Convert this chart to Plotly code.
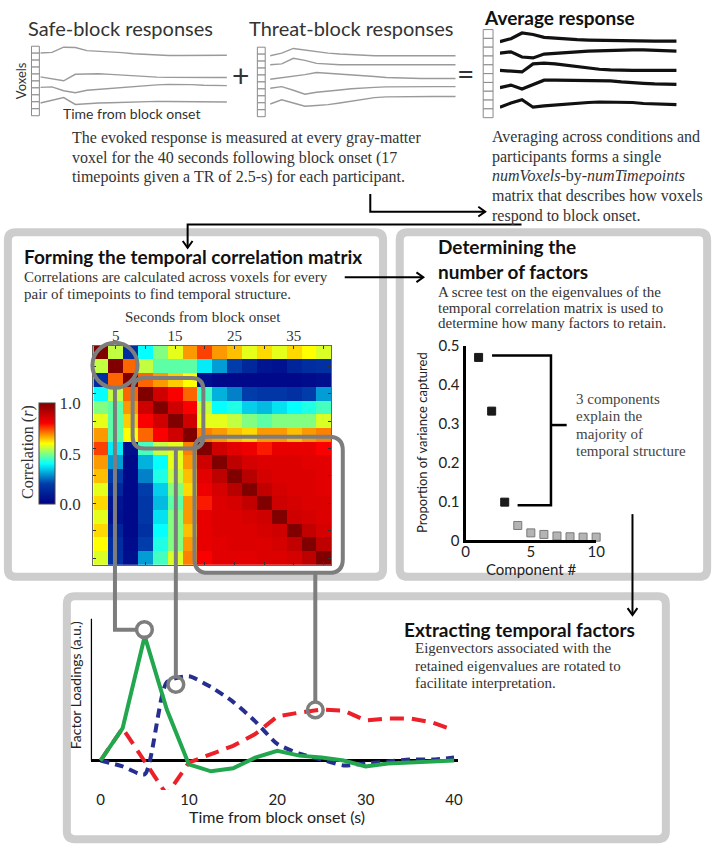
import plotly.graph_objects as go

W, H = 722, 853
SANS = "Lato, 'Open Sans', sans-serif"
SERIF = "'Liberation Serif', 'DejaVu Serif', serif"

# ---------------- data ----------------
timepoints = list(range(17))  # TR index (0..16)

safe_voxels = [
    [66, 66.7, 72, 71.7, 68.5, 68, 67.3, 66.5, 65.3, 64.5, 64, 63.5, 63.5, 63.5, 63.5, 63.5, 63.7],
    [41.7, 40, 37.7, 44.3, 44.8, 44.9, 44.2, 43.5, 42.2, 41.7, 41.4, 41.2, 41, 41, 41, 41, 41],
    [31, 31.5, 27.5, 25.5, 28, 29, 30, 31, 32.2, 33, 33.5, 34, 34.2, 33.8, 33.2, 32.8, 32.7],
    [15, 18, 20.5, 13.5, 14.5, 15, 15.3, 15.7, 16.3, 16.7, 16.7, 16.5, 16.3, 16.2, 16.1, 16, 16],
]
threat_voxels = [
    [63.3, 66, 70.7, 69, 67.5, 66, 65, 64.2, 63.7, 63.3, 63.3, 63.3, 63.3, 63.3, 63.3, 63.3, 63.3],
    [54, 55, 60.7, 58.5, 55.5, 54.5, 54, 54, 54, 54, 54, 54, 54, 54, 54, 54, 54],
    [39.3, 40.7, 42, 44, 46.2, 45.5, 44.7, 43.8, 43, 42, 41, 40.5, 40, 40, 40, 40, 40],
    [30, 31.7, 28, 24, 26, 27.5, 28.3, 29.5, 30.5, 31, 31.5, 31.7, 31.7, 31.7, 31.7, 31.7, 31.7],
    [14, 18.3, 15, 11.7, 12.5, 13.3, 15, 17, 19, 20.5, 21.2, 21.5, 21.7, 21.7, 21.7, 21.7, 21.7],
]
average_voxels = [
    [77.7, 80.7, 86.5, 85, 82, 81, 80.2, 79.7, 79.3, 79, 78.8, 78.5, 78.3, 78.3, 78.3, 78.3, 78.3],
    [66, 67.3, 62, 61, 65, 66, 66.7, 67.3, 68, 68.5, 69, 69.3, 69.3, 69.2, 68.8, 68.4, 68],
    [48.3, 47.7, 46.7, 55, 55.7, 55, 53.5, 52, 50.5, 49.5, 48.8, 48.3, 48.3, 48.3, 48.3, 48.3, 48.3],
    [30.7, 33.3, 29.3, 34, 38.3, 38.3, 38.3, 38.3, 38.3, 38, 37.5, 36.5, 35.5, 35, 34.5, 34, 34],
    [10.7, 15, 18.3, 10.7, 12, 13, 14, 15, 15.5, 16, 16, 16, 15.5, 14.5, 14, 13.5, 13.3],
]

corr_seconds = [2.5, 5, 7.5, 10, 12.5, 15, 17.5, 20, 22.5, 25, 27.5, 30, 32.5, 35, 37.5, 40]
corr_ticks = [5, 10, 15, 20, 25, 30, 35, 40]
corr_ticktext = ["5", "", "15", "", "25", "", "35", ""]
corr_matrix = [
    [1.00, 0.55, 0.15, 0.40, 0.50, 0.58, 0.68, 0.75, 0.68, 0.65, 0.58, 0.63, 0.58, 0.63, 0.60, 0.57],
    [0.55, 1.00, 0.72, 0.55, 0.47, 0.47, 0.47, 0.38, 0.30, 0.20, 0.13, 0.07, 0.06, 0.12, 0.15, 0.16],
    [0.15, 0.72, 1.00, 0.72, 0.68, 0.64, 0.60, 0.05, 0.03, 0.03, 0.03, 0.03, 0.03, 0.03, 0.04, 0.05],
    [0.40, 0.55, 0.72, 1.00, 0.87, 0.80, 0.72, 0.45, 0.32, 0.27, 0.20, 0.18, 0.18, 0.16, 0.20, 0.30],
    [0.50, 0.47, 0.68, 0.87, 1.00, 0.87, 0.80, 0.55, 0.40, 0.42, 0.35, 0.33, 0.37, 0.40, 0.42, 0.45],
    [0.58, 0.47, 0.64, 0.80, 0.87, 1.00, 0.87, 0.58, 0.58, 0.55, 0.50, 0.47, 0.50, 0.50, 0.50, 0.57],
    [0.68, 0.47, 0.60, 0.72, 0.80, 0.87, 1.00, 0.70, 0.68, 0.65, 0.63, 0.68, 0.68, 0.65, 0.68, 0.70],
    [0.75, 0.38, 0.05, 0.45, 0.55, 0.58, 0.70, 1.00, 0.87, 0.84, 0.82, 0.78, 0.83, 0.83, 0.83, 0.80],
    [0.68, 0.30, 0.03, 0.32, 0.40, 0.58, 0.68, 0.87, 1.00, 0.90, 0.86, 0.85, 0.85, 0.85, 0.84, 0.84],
    [0.65, 0.20, 0.03, 0.27, 0.42, 0.55, 0.65, 0.84, 0.90, 1.00, 0.91, 0.86, 0.85, 0.85, 0.85, 0.84],
    [0.58, 0.13, 0.03, 0.20, 0.35, 0.50, 0.63, 0.82, 0.86, 0.91, 1.00, 0.89, 0.86, 0.85, 0.85, 0.84],
    [0.63, 0.07, 0.03, 0.18, 0.33, 0.47, 0.68, 0.78, 0.85, 0.86, 0.89, 1.00, 0.87, 0.86, 0.85, 0.85],
    [0.58, 0.06, 0.03, 0.18, 0.37, 0.50, 0.68, 0.83, 0.85, 0.85, 0.86, 0.87, 1.00, 0.87, 0.86, 0.85],
    [0.63, 0.12, 0.03, 0.16, 0.40, 0.50, 0.65, 0.83, 0.85, 0.85, 0.85, 0.86, 0.87, 1.00, 0.89, 0.86],
    [0.60, 0.15, 0.04, 0.20, 0.42, 0.50, 0.68, 0.83, 0.84, 0.85, 0.85, 0.85, 0.86, 0.89, 1.00, 0.90],
    [0.57, 0.16, 0.05, 0.30, 0.45, 0.57, 0.70, 0.80, 0.84, 0.84, 0.84, 0.85, 0.85, 0.86, 0.90, 1.00],
]
colorbar_ticks = [0.0, 0.5, 1.0]
colorbar_ticktext = ["0.0", "0.5", "1.0"]

scree_component = [1, 2, 3, 4, 5, 6, 7, 8, 9, 10]
scree_variance = [0.47, 0.332, 0.098, 0.038, 0.019, 0.015, 0.011, 0.009, 0.008, 0.008]
n_retained = 3
scree_xticks = [0, 5, 10]
scree_yticks = [0, 0.1, 0.2, 0.3, 0.4, 0.5]
scree_yticktext = ["0", "0.1", "0.2", "0.3", "0.4", "0.5"]

loading_time = [0, 2.5, 5, 7.5, 10, 12.5, 15, 17.5, 20, 22.5, 25, 27.5, 30, 32.5, 35, 37.5, 40]
factor_green = [0, 0.33, 1.27, 0.52, -0.04, -0.11, -0.08, 0.03, 0.10, 0.05, 0.03, 0.0, -0.06, -0.03, -0.02, -0.01, 0.0]
factor_blue = [0, -0.06, -0.14, 0.80, 0.86, 0.75, 0.60, 0.40, 0.17, 0.07, 0.01, -0.05, -0.03, -0.01, 0.01, 0.01, 0.03]
factor_red = [0, 0.33, -0.01, -0.35, -0.02, 0.06, 0.15, 0.27, 0.45, 0.49, 0.52, 0.51, 0.41, 0.43, 0.43, 0.39, 0.31]
factor_xticks = [0, 10, 20, 30, 40]


# ---------------- helpers ----------------
def X(px):
    return px / W


def Y(py):
    return 1 - py / H


def dx(a, b):
    return [X(a), X(b)]


def dy(top, bottom):
    return [Y(bottom), Y(top)]


def P(x, y):
    return f"{X(x):.5f},{Y(y):.5f}"


def poly(points, color="#000", width=2, layer="above"):
    d = "M" + " L".join(P(x, y) for x, y in points)
    return dict(type="path", path=d, xref="paper", yref="paper",
                line=dict(color=color, width=width), layer=layer)


def rrect(x0, y0, x1, y1, r, color, width, layer="above"):
    d = (f"M{P(x0 + r, y0)} L{P(x1 - r, y0)} Q{P(x1, y0)} {P(x1, y0 + r)} "
         f"L{P(x1, y1 - r)} Q{P(x1, y1)} {P(x1 - r, y1)} L{P(x0 + r, y1)} "
         f"Q{P(x0, y1)} {P(x0, y1 - r)} L{P(x0, y0 + r)} Q{P(x0, y0)} {P(x0 + r, y0)} Z")
    return dict(type="path", path=d, xref="paper", yref="paper",
                line=dict(color=color, width=width), fillcolor="rgba(0,0,0,0)", layer=layer)


def circle(cx, cy, r, color, width):
    return dict(type="circle", xref="paper", yref="paper",
                x0=X(cx - r), x1=X(cx + r), y0=Y(cy + r), y1=Y(cy - r),
                line=dict(color=color, width=width), fillcolor="rgba(0,0,0,0)", layer="above")


def chevron(xh, yh, direction, color="#000", width=2, s=6):
    if direction == "right":
        pts = [(xh - s - 1, yh - s + 1), (xh, yh), (xh - s - 1, yh + s - 1)]
    else:  # down
        pts = [(xh - s + 1, yh - s - 1), (xh, yh), (xh + s - 1, yh - s - 1)]
    return poly(pts, color, width)


def voxel_boxes(x0, x1, y0, y1, n=10):
    h = (y1 - y0) / n
    return [dict(type="rect", xref="paper", yref="paper", x0=X(x0), x1=X(x1),
                 y0=Y(y0 + (i + 1) * h), y1=Y(y0 + i * h),
                 line=dict(color="#8a8a8a", width=1), fillcolor="white", layer="above")
            for i in range(n)]


def txt(x, y, s, size=15, family=SERIF, color="#333", xanchor="left", angle=0):
    return dict(x=X(x), y=Y(y), xref="paper", yref="paper", text=s, showarrow=False,
                font=dict(size=size, family=family, color=color),
                xanchor=xanchor, yanchor="middle", textangle=angle, align="left")


# ---------------- figure ----------------
fig = go.Figure()

for vox in safe_voxels:
    fig.add_trace(go.Scatter(x=timepoints, y=vox, xaxis="x2", yaxis="y2", mode="lines",
                             line=dict(color="#9a9a9a", width=1.4), hoverinfo="skip"))
for vox in threat_voxels:
    fig.add_trace(go.Scatter(x=timepoints, y=vox, xaxis="x3", yaxis="y3", mode="lines",
                             line=dict(color="#9a9a9a", width=1.4), hoverinfo="skip"))
for vox in average_voxels:
    fig.add_trace(go.Scatter(x=timepoints, y=vox, xaxis="x4", yaxis="y4", mode="lines",
                             line=dict(color="#111", width=3.2), hoverinfo="skip"))

fig.add_trace(go.Heatmap(
    x=corr_seconds, y=corr_seconds, z=corr_matrix, zmin=0, zmax=1,
    colorscale="Jet", xaxis="x", yaxis="y",
    colorbar=dict(x=X(36), xanchor="left", xpad=0, ypad=0, y=Y(453.5), yanchor="middle",
                  len=103 / H, lenmode="fraction", thickness=16, thicknessmode="pixels",
                  tickvals=colorbar_ticks, ticktext=colorbar_ticktext, ticks="",
                  tickfont=dict(family=SERIF, size=17, color="#333"),
                  outlinewidth=1, outlinecolor="#444"),
))

fig.add_trace(go.Scatter(
    x=scree_component, y=scree_variance, xaxis="x5", yaxis="y5", mode="markers",
    cliponaxis=False,
    marker=dict(symbol="square", size=8,
                color=["#1a1a1a" if i < n_retained else "#b4b4b4" for i in range(len(scree_component))],
                line=dict(width=1, color=["#1a1a1a" if i < n_retained else "#7a7a7a"
                                          for i in range(len(scree_component))]))))

fig.add_trace(go.Scatter(x=loading_time, y=factor_red, xaxis="x6", yaxis="y6", mode="lines",
                         cliponaxis=False,
                         line=dict(color="#ec2028", width=4, dash="14px,8px")))
fig.add_trace(go.Scatter(x=loading_time, y=factor_blue, xaxis="x6", yaxis="y6", mode="lines",
                         cliponaxis=False, line_shape="spline",
                         line=dict(color="#262e8f", width=4, dash="9px,6px", smoothing=0.6)))
fig.add_trace(go.Scatter(x=loading_time, y=factor_green, xaxis="x6", yaxis="y6", mode="lines",
                         cliponaxis=False,
                         line=dict(color="#22a64e", width=4)))

hidden = dict(visible=False, fixedrange=True)
fig.update_layout(
    width=W, height=H, margin=dict(l=0, r=0, t=0, b=0),
    paper_bgcolor="white", plot_bgcolor="rgba(0,0,0,0)", showlegend=False,
    xaxis=dict(domain=dx(91, 333), range=[1.25, 41.25], side="top",
               tickvals=corr_ticks, ticktext=corr_ticktext, ticks="inside", ticklen=3,
               tickcolor="#333", showgrid=False, zeroline=False, showline=True, mirror="allticks",
               linecolor="#666", linewidth=1, ticklabelstandoff=-2,
               tickfont=dict(family=SERIF, size=15, color="#333")),
    yaxis=dict(domain=dy(343, 567), range=[41.25, 1.25], tickvals=corr_ticks,
               showticklabels=False, ticks="inside", ticklen=3, tickcolor="#333",
               showgrid=False, zeroline=False, showline=True, mirror="allticks",
               linecolor="#666", linewidth=1),
    xaxis2=dict(domain=dx(37, 227), range=[0, 16], anchor="y2", **hidden),
    yaxis2=dict(domain=dy(15, 110), range=[0, 95], anchor="x2", **hidden),
    xaxis3=dict(domain=dx(271, 460), range=[0, 16], anchor="y3", **hidden),
    yaxis3=dict(domain=dy(15, 110), range=[0, 95], anchor="x3", **hidden),
    xaxis4=dict(domain=dx(505, 685), range=[0, 16], anchor="y4", **hidden),
    yaxis4=dict(domain=dy(15, 110), range=[0, 95], anchor="x4", **hidden),
    xaxis5=dict(domain=dx(470, 603), range=[0, 10], anchor="y5", tickvals=scree_xticks,
                showline=True, linecolor="#000", linewidth=3, ticks="", showgrid=False,
                zeroline=False, ticklabelstandoff=-4,
                tickfont=dict(family=SANS, size=15, color="#222")),
    yaxis5=dict(domain=dy(343, 541.7), range=[0, 0.5], anchor="x5", tickvals=scree_yticks,
                ticktext=scree_yticktext, showline=True, linecolor="#000", linewidth=3,
                ticks="", showgrid=False, zeroline=False,
                tickfont=dict(family=SANS, size=15, color="#222")),
    xaxis6=dict(domain=dx(88.4, 462.8), range=[-1.1, 40.5], anchor="y6", tickvals=factor_xticks,
                ticks="", showline=False, showgrid=False, zeroline=False, ticklabelstandoff=-1,
                tickfont=dict(family=SANS, size=15, color="#222")),
    yaxis6=dict(domain=dy(621.7, 796.7), range=[-0.30, 1.45], anchor="x6",
                showticklabels=False, ticks="", showgrid=False, zeroline=True,
                zerolinecolor="#000", zerolinewidth=2.5, showline=False),
)

shapes = []
shapes.append(rrect(4, 227, 386, 579, 8, "#cdcdcd", 8, layer="below"))
shapes.append(rrect(403, 227, 716, 579, 8, "#cdcdcd", 8, layer="below"))
shapes.append(rrect(64, 599, 674, 847, 8, "#cdcdcd", 8, layer="below"))

shapes += voxel_boxes(28, 36, 37, 108)
shapes += voxel_boxes(258, 266, 38, 109)
shapes += voxel_boxes(488, 498, 20, 110)

shapes.append(poly([(373, 188), (373, 206), (490, 206)]))
shapes.append(chevron(490, 206, "right"))
shapes.append(poly([(527, 219), (187, 219), (187, 243)]))
shapes.append(chevron(187, 243, "down"))
shapes.append(poly([(347, 273), (427, 273)]))
shapes.append(chevron(427, 273, "right"))
shapes.append(poly([(640, 515), (640, 618)]))
shapes.append(chevron(640, 618, "down"))

shapes.append(poly([(497, 353), (557, 353), (557, 506), (523, 506)], "#000", 2.5))
shapes.append(poly([(557, 424), (573, 424)], "#000", 2.5))

shapes.append(dict(type="line", xref="x6", yref="y6", x0=-1.1, x1=-1.1, y0=0, y1=1.45,
                   line=dict(color="#000", width=2.5), layer="above"))

G = "#7d7d7d"
shapes.append(circle(113, 363, 23, G, 4))
shapes.append(rrect(131, 376, 203, 448, 12, G, 4))
shapes.append(rrect(194, 436, 345, 575, 14, G, 4))
shapes.append(poly([(113, 386), (113, 633), (135, 633)], G, 4))
shapes.append(poly([(175, 448), (175, 681)], G, 4))
shapes.append(poly([(317, 575), (317, 707)], G, 4))
shapes.append(circle(143, 633, 8, G, 3.5))
shapes.append(circle(175, 689, 8, G, 3.5))
shapes.append(circle(317, 715, 8, G, 3.5))

ann = [
    txt(22, 18, "Safe-block responses", 20, SANS, "#333"),
    txt(247, 18, "Threat-block responses", 20, SANS, "#333"),
    txt(487, 8, "<b>Average response</b>", 19, SANS, "#111"),
    txt(18, 72, "Voxels", 13, SANS, "#333", "center", -90),
    txt(130, 106, "Time from block onset", 14, SANS, "#333", "center"),
    txt(241, 66, "+", 30, SANS, "#333", "center"),
    txt(470, 64, "=", 30, SANS, "#333", "center"),
    txt(67, 131, "The evoked response is measured at every gray-matter", 16),
    txt(67, 151, "voxel for the 40 seconds following block onset (17", 16),
    txt(67, 171, "timepoints given a TR of 2.5-s) for each participant.", 16),
    txt(495, 130, "Averaging across conditions and", 16),
    txt(495, 150, "participants forms a single", 16),
    txt(495, 170, "<i>numVoxels</i>-by-<i>numTimepoints</i>", 16),
    txt(495, 190, "matrix that describes how voxels", 16),
    txt(495, 210, "respond to block onset.", 16),
    txt(18, 252, "<b>Forming the temporal correlation matrix</b>", 19, SANS, "#111"),
    txt(18, 273, "Correlations are calculated across voxels for every", 15),
    txt(18, 290, "pair of timepoints to find temporal structure.", 15),
    txt(203, 314, "Seconds from block onset", 15, SERIF, "#333", "center"),
    txt(25, 452, "Correlation (<i>r</i>)", 16, SERIF, "#333", "center", -90),
    txt(440, 242, "<b>Determining the</b>", 19, SANS, "#111"),
    txt(440, 267, "<b>number of factors</b>", 19, SANS, "#111"),
    txt(440, 288, "A scree test on the eigenvalues of the", 15),
    txt(440, 304, "temporal correlation matrix is used to", 15),
    txt(440, 320, "determine how many factors to retain.", 15),
    txt(425, 442, "Proportion of variance captured", 13, SANS, "#222", "center", -90),
    txt(537, 571, "Component #", 15, SANS, "#222", "center"),
    txt(580, 397, "3 components", 15, SERIF, "#444"),
    txt(580, 415, "explain the", 15, SERIF, "#444"),
    txt(580, 433, "majority of", 15, SERIF, "#444"),
    txt(580, 451, "temporal structure", 15, SERIF, "#444"),
    txt(405, 633, "<b>Extracting temporal factors</b>", 19, SANS, "#111"),
    txt(416, 652, "Eigenvectors associated with the", 15),
    txt(416, 670, "retained eigenvalues are rotated to", 15),
    txt(416, 688, "facilitate interpretation.", 15),
    txt(73, 690, "Factor Loadings (a.u.)", 14, SANS, "#222", "center", -90),
    txt(278, 824, "Time from block onset (s)", 16, SANS, "#222", "center"),
]

fig.update_layout(shapes=shapes, annotations=ann)
fig.write_html(
    "out.html",
    config={"displayModeBar": False},
    post_script="document.body.style.margin='0';document.body.style.padding='0';"
                "document.documentElement.style.overflow='hidden';",
)
